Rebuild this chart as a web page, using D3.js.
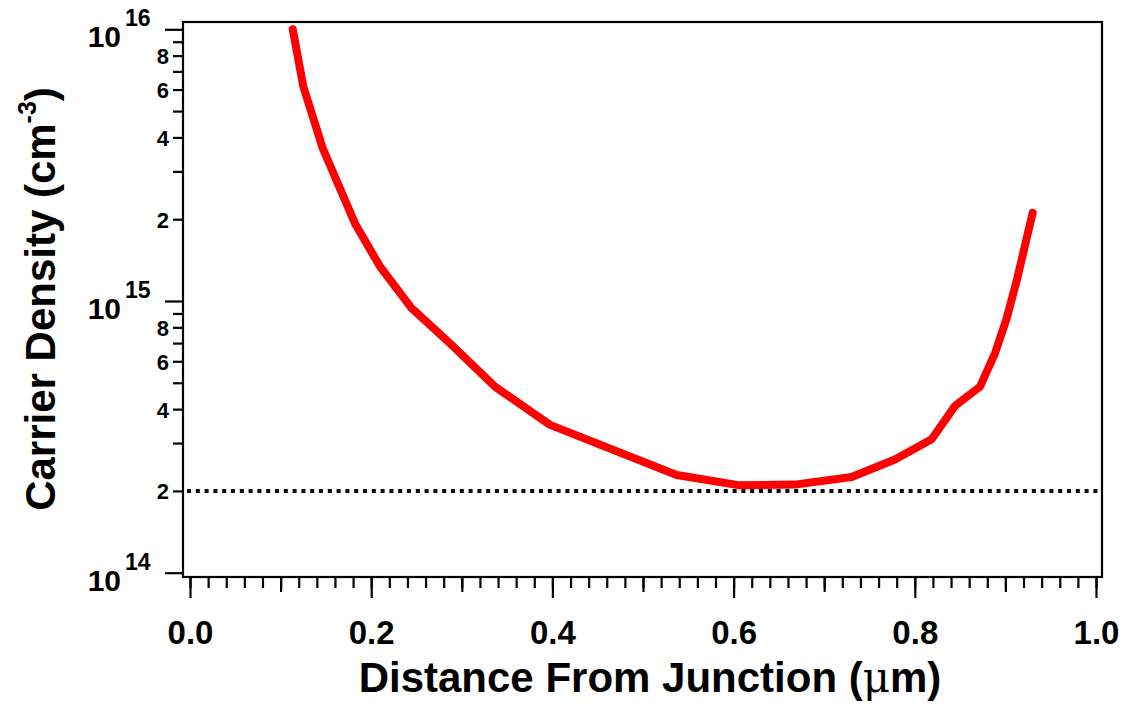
<!DOCTYPE html>
<html>
<head>
<meta charset="utf-8">
<script src="https://cdn.jsdelivr.net/npm/d3@7"></script>
<style>
  html, body { margin: 0; padding: 0; background: #fff; }
  svg { display: block; }
  text { font-family: "Liberation Sans", Arial, sans-serif; font-weight: bold; fill: #000; }
</style>
</head>
<body>
<svg id="chart" width="1128" height="704"></svg>
<script>
// Carrier density profile vs. distance from the junction
const distance = [0.1134, 0.1251, 0.1465, 0.1821, 0.2097, 0.2447, 0.2870, 0.3366, 0.3974,
                  0.5372, 0.6052, 0.6678, 0.7303, 0.7781, 0.8186, 0.8444, 0.8720, 0.8885,
                  0.9014, 0.9125, 0.9301];
const density = [1.0e16, 6.15e15, 3.65e15, 1.93e15, 1.34e15, 9.4e14, 6.98e14, 4.84e14, 3.50e14,
                 2.29e14, 2.10e14, 2.11e14, 2.25e14, 2.61e14, 3.10e14, 4.11e14, 4.84e14, 6.42e14,
                 8.63e14, 1.19e15, 2.11e15];

// Background (reference) doping level shown as a dotted line
const backgroundLevel = 2e14;

// Axis tick definitions
const xMajorTicks = [0.0, 0.2, 0.4, 0.6, 0.8, 1.0];
const xMidTicks = [0.1, 0.3, 0.5, 0.7, 0.9];
const xMinorTicks = d3.range(0, 51).map(i => i * 0.02);
const yDecades = [1e14, 1e15, 1e16];
const yDecadeExponents = ["14", "15", "16"];
const yMinorMantissas = [2, 3, 4, 5, 6, 7, 8, 9];
const yLabeledMantissas = [2, 4, 6, 8];

const svg = d3.select("#chart");

// Frame geometry
const frame = { left: 183, right: 1102, top: 22, bottom: 577 };

const x = d3.scaleLinear().domain([0, 1]).range([190, 1096]);
const y = d3.scaleLog().domain([1e14, 1e16]).range([572.7, 29.3]);

// Plot frame
svg.append("rect")
  .attr("x", frame.left).attr("y", frame.top)
  .attr("width", frame.right - frame.left).attr("height", frame.bottom - frame.top)
  .attr("fill", "none").attr("stroke", "#000").attr("stroke-width", 2.2);

// ---- Y axis ticks ----
const yMinorValues = [];
yDecades.slice(0, -1).forEach(dec => yMinorMantissas.forEach(m => yMinorValues.push(m * dec)));

const yAxisMinor = d3.axisLeft(y).tickValues(yMinorValues).tickSize(10)
  .tickFormat(v => {
    const m = Math.round(v / Math.pow(10, Math.floor(Math.log10(v) + 1e-9)));
    return yLabeledMantissas.includes(m) ? String(m) : "";
  })
  .tickPadding(4);
const gYMinor = svg.append("g").attr("transform", `translate(${frame.left},0)`).call(yAxisMinor);
gYMinor.select(".domain").remove();
gYMinor.selectAll("line").attr("stroke", "#000").attr("stroke-width", 2.2);
gYMinor.selectAll("text").attr("font-size", 22).attr("dy", "0.36em")
  .attr("fill", "#000").style("font-family", "'Liberation Sans', Arial, sans-serif").style("font-weight", "bold");

const yAxisMajor = d3.axisLeft(y).tickValues(yDecades).tickSize(18).tickFormat("");
const gYMajor = svg.append("g").attr("transform", `translate(${frame.left},0)`).call(yAxisMajor);
gYMajor.select(".domain").remove();
gYMajor.selectAll("line").attr("stroke", "#000").attr("stroke-width", 2.2);

// Decade labels as 10 with a superscript exponent
yDecades.forEach((dec, i) => {
  const yy = y(dec);
  svg.append("text")
    .attr("x", 121).attr("y", yy + 18)
    .attr("text-anchor", "end").attr("font-size", 30)
    .text("10");
  svg.append("text")
    .attr("x", 125).attr("y", yy - 3)
    .attr("text-anchor", "start").attr("font-size", 23)
    .text(yDecadeExponents[i]);
});

// ---- X axis ticks ----
const xAxisMinor = d3.axisBottom(x).tickValues(xMinorTicks).tickSize(11).tickFormat("");
const gXMinor = svg.append("g").attr("transform", `translate(0,${frame.bottom})`).call(xAxisMinor);
gXMinor.select(".domain").remove();
gXMinor.selectAll("line").attr("stroke", "#000").attr("stroke-width", 2.2);

const xAxisMid = d3.axisBottom(x).tickValues(xMidTicks).tickSize(15).tickFormat("");
const gXMid = svg.append("g").attr("transform", `translate(0,${frame.bottom})`).call(xAxisMid);
gXMid.select(".domain").remove();
gXMid.selectAll("line").attr("stroke", "#000").attr("stroke-width", 2.2);

const xAxisMajor = d3.axisBottom(x).tickValues(xMajorTicks).tickSize(21)
  .tickFormat(d3.format(".1f")).tickPadding(23);
const gXMajor = svg.append("g").attr("transform", `translate(0,${frame.bottom})`).call(xAxisMajor);
gXMajor.select(".domain").remove();
gXMajor.selectAll("line").attr("stroke", "#000").attr("stroke-width", 2.2);
gXMajor.selectAll("text").attr("font-size", 33).attr("fill", "#000")
  .style("font-family", "'Liberation Sans', Arial, sans-serif").style("font-weight", "bold");

// ---- Background level (dotted) ----
svg.append("line")
  .attr("x1", frame.left + 4).attr("x2", frame.right)
  .attr("y1", y(backgroundLevel)).attr("y2", y(backgroundLevel))
  .attr("stroke", "#000").attr("stroke-width", 4)
  .attr("stroke-dasharray", "4,4.8");

// ---- Density curve ----
const line = d3.line()
  .x((d, i) => x(distance[i]))
  .y(d => y(d));
svg.append("path")
  .datum(density)
  .attr("d", line)
  .attr("fill", "none")
  .attr("stroke", "#ff0000")
  .attr("stroke-width", 8)
  .attr("stroke-linejoin", "round")
  .attr("stroke-linecap", "round");

// ---- Axis titles ----
const xTitle = svg.append("text")
  .attr("x", 650).attr("y", 692)
  .attr("text-anchor", "middle").attr("font-size", 42);
xTitle.append("tspan").text("Distance From Junction (");
xTitle.append("tspan").style("font-family", "'DejaVu Serif', serif").style("font-weight", "normal").text("\u03bc");
xTitle.append("tspan").text("m)");

const yTitle = svg.append("text")
  .attr("transform", "translate(55,299) rotate(-90)")
  .attr("text-anchor", "middle").attr("font-size", 42);
yTitle.append("tspan").text("Carrier Density (cm");
yTitle.append("tspan").attr("dy", -19).attr("font-size", 25).text("-3");
yTitle.append("tspan").attr("dy", 19).text(")");
</script>
</body>
</html>
